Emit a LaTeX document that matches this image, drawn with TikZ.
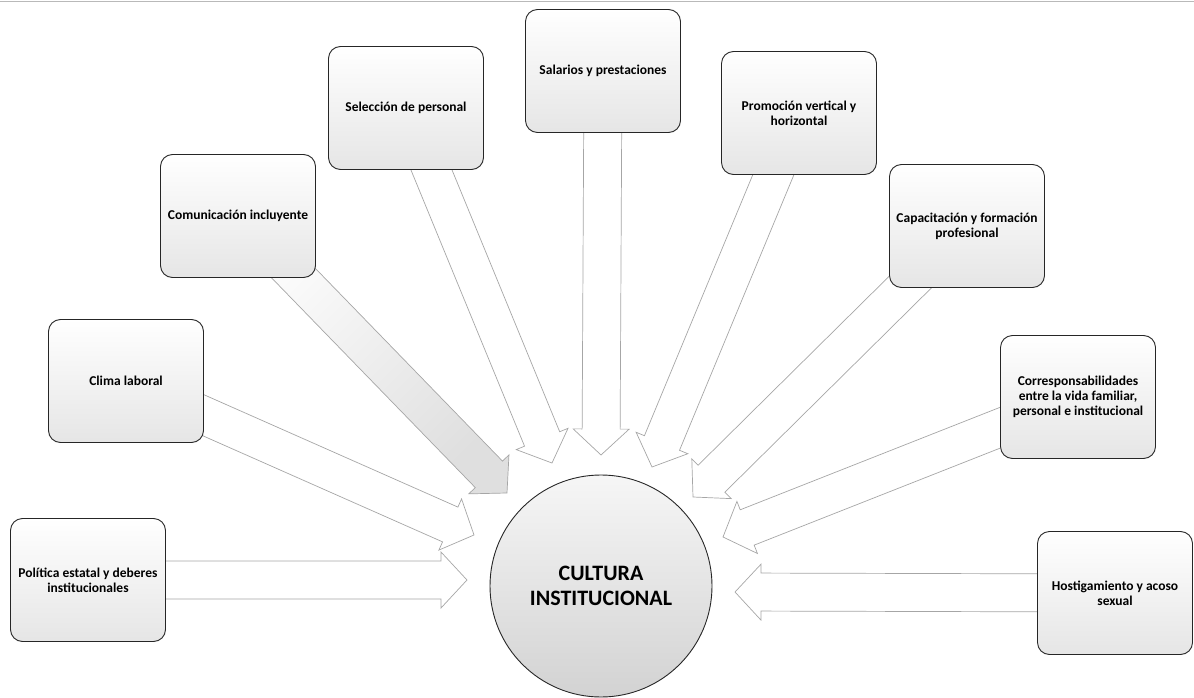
\documentclass[tikz,border=0pt]{standalone}
\usepackage{fontspec}
\setmainfont{Carlito}
\usetikzlibrary{calc,backgrounds}
\newcommand\myblockarrow[3][]{%
  \path[arr,#1] ($(#2)!19pt!90:(#3)$) -- ($(#3)!26pt!(#2)!19pt!90:(#3)$) -- ($(#3)!26pt!(#2)!28pt!90:(#3)$) -- (#3) -- ($(#3)!26pt!(#2)!28pt!-90:(#3)$) -- ($(#3)!26pt!(#2)!19pt!-90:(#3)$) -- ($(#2)!19pt!-90:(#3)$) -- cycle;}
\begin{document}
\begin{tikzpicture}[x=1pt,y=-1pt,
  box/.style={draw=black!85, line width=0.9pt, rounded corners=12pt,
    minimum width=155pt, minimum height=123pt, inner sep=3pt, align=center,
    font=\bfseries\fontsize{13.5}{15}\selectfont,
    top color=white, middle color=white, bottom color=gray!20},
  arr/.style={draw=gray!70, line width=0.7pt, fill=white, line join=miter},
  core/.style={circle, draw=black!85, line width=0.9pt, minimum size=222pt,
    top color=gray!7, bottom color=gray!35, align=center,
    font=\bfseries\fontsize{22}{25}\selectfont},
  edge/.style={draw=gray!55, line width=1.2pt}
]
\useasboundingbox (0,0) rectangle (1194,698);
\coordinate (e1) at (0,1.5);
\coordinate (e2) at (1194,1.5);
\draw[edge] (e1) -- (e2);

\node[box] (pol) at (88,580) {Política estatal y deberes\\institucionales};
\node[box] (cli) at (126,381) {Clima laboral};
\node[box] (com) at (238,216) {Comunicación incluyente};
\node[box] (sel) at (406,108) {Selección de personal};
\node[box] (sal) at (603,71) {Salarios y prestaciones};
\node[box] (pro) at (799,113) {Promoción vertical y\\horizontal};
\node[box] (cap) at (967,226) {Capacitación y formación\\profesional};
\node[box] (cor) at (1078,397) {Corresponsabilidades\\entre la vida familiar,\\personal e institucional};
\node[box] (hos) at (1115,593) {Hostigamiento y acoso\\sexual};
\node[core] (cul) at (601,586) {CULTURA\\INSTITUCIONAL};

\coordinate (t1) at (467,580);
\coordinate (t2) at (474,535);
\coordinate (t3) at (507,493);
\coordinate (t4) at (552,463);
\coordinate (t5) at (601,455);
\coordinate (t6) at (652,467);
\coordinate (t7) at (693,497);
\coordinate (t8) at (723,537);
\coordinate (t9) at (735,592);

\begin{scope}[on background layer]
\myblockarrow{pol.center}{t1}
\myblockarrow{cli.center}{t2}
\myblockarrow[top color=white, bottom color=gray!25, shading angle=45]{com.center}{t3}
\myblockarrow{sel.center}{t4}
\myblockarrow{sal.center}{t5}
\myblockarrow{pro.center}{t6}
\myblockarrow{cap.center}{t7}
\myblockarrow{cor.center}{t8}
\myblockarrow{hos.center}{t9}
\end{scope}
\end{tikzpicture}
\end{document}
